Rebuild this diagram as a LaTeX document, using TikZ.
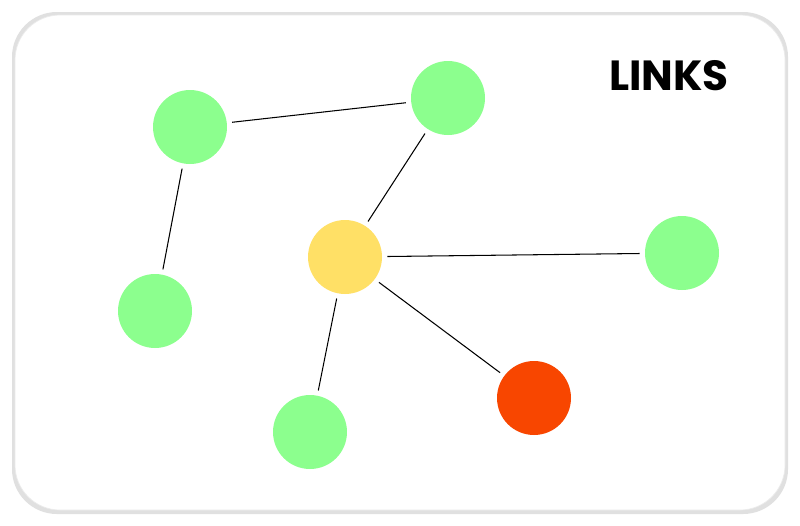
\documentclass[tikz,border=0pt]{standalone}
\usepackage{fontspec}
\setmainfont{Poppins}
\definecolor{gn}{HTML}{8CFF8E}
\definecolor{yl}{HTML}{FFE066}
\definecolor{rd}{HTML}{F84600}
\tikzset{dot/.style={circle,minimum size=1.48cm,inner sep=0pt},
link/.style={black,line width=0.6pt,shorten <=0.1cm,shorten >=0.1cm}}
\begin{document}
\begin{tikzpicture}[x=0.02cm,y=-0.02cm]
\useasboundingbox (0,0) rectangle (800,525);
\fill[white] (0,0) rectangle (800,525);
\fill[black!12,rounded corners=0.9cm] (12,12) rectangle (788,514);
\fill[white,draw=black!8,rounded corners=0.9cm] (15,15) rectangle (785,510);
\node[dot,fill=gn] (a) at (190,127) {};
\node[dot,fill=gn] (b) at (448,98) {};
\node[dot,fill=gn] (c) at (155,311) {};
\node[dot,fill=yl] (d) at (345,257) {};
\node[dot,fill=gn] (e) at (682,253) {};
\node[dot,fill=gn] (f) at (310,432) {};
\node[dot,fill=rd] (g) at (534,398) {};
\draw[link] (a)--(b);
\draw[link] (b)--(d);
\draw[link] (a)--(c);
\draw[link] (d)--(e);
\draw[link] (d)--(f);
\draw[link] (d)--(g);
\node[font=\fontsize{24}{24}\selectfont\bfseries,anchor=center] (t) at (669,76) {LINKS};
\end{tikzpicture}
\end{document}
